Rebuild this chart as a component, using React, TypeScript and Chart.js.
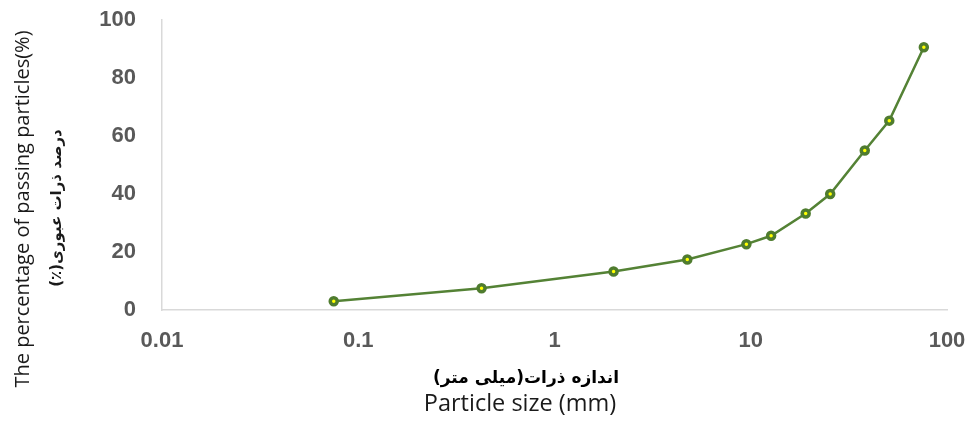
import React, { useEffect, useRef } from "react";
import { Chart, registerables } from "chart.js";

Chart.register(...registerables);

// Sieve sizes (mm) and percentage passing
const particleSizes = [0.075, 0.425, 2, 4.75, 9.5, 12.7, 19.05, 25.4, 38.1, 50.8, 76.2];
const passingPercent = [3.0, 7.5, 13.3, 17.4, 22.7, 25.6, 33.3, 40.0, 55.0, 65.3, 90.6];

const xTickValues = [0.01, 0.1, 1, 10, 100];
const xTickLabels = ["0.01", "0.1", "1", "10", "100"];
const yTickValues = [0, 20, 40, 60, 80, 100];

const yTitleEn = "The percentage of passing particles(%)";
const yTitleFa = "درصد ذرات عبوری(٪)";
const xTitleFa = "اندازه ذرات(میلی متر)";
const xTitleEn = "Particle size (mm)";

const GREEN = "#548235";

const titlesPlugin = {
  id: "customTitles",
  afterDraw(chart: any) {
    const ctx = chart.ctx as CanvasRenderingContext2D;
    ctx.save();
    ctx.textAlign = "center";
    ctx.textBaseline = "middle";
    // Y title (English)
    ctx.save();
    ctx.translate(23, 209);
    ctx.rotate(-Math.PI / 2);
    ctx.fillStyle = "#1a1a1a";
    ctx.font = '20px "Open Sans", sans-serif';
    ctx.fillText(yTitleEn, 0, 0);
    ctx.restore();
    // Y title (Persian)
    ctx.save();
    ctx.translate(57, 208);
    ctx.rotate(-Math.PI / 2);
    ctx.fillStyle = "#1a1a1a";
    ctx.direction = "rtl";
    ctx.font = 'bold 15px "DejaVu Sans", sans-serif';
    ctx.fillText(yTitleFa, 0, 0);
    ctx.restore();
    // X title (Persian)
    ctx.save();
    ctx.fillStyle = "#000000";
    ctx.direction = "rtl";
    ctx.font = 'bold 17px "DejaVu Sans", sans-serif';
    ctx.fillText(xTitleFa, 526, 379);
    ctx.restore();
    // X title (English)
    ctx.save();
    ctx.fillStyle = "#1a1a1a";
    ctx.font = '23.5px "Open Sans", sans-serif';
    ctx.fillText(xTitleEn, 520, 404);
    ctx.restore();
    ctx.restore();
  },
};

export default function App() {
  const canvasRef = useRef<HTMLCanvasElement | null>(null);

  useEffect(() => {
    if (!canvasRef.current) return;
    const tickFont = { family: '"Liberation Sans", Arial, sans-serif', size: 22, weight: "bold" as const };
    const chart = new Chart(canvasRef.current, {
      type: "line",
      data: {
        datasets: [
          {
            data: particleSizes.map((x, i) => ({ x, y: passingPercent[i] })),
            borderColor: GREEN,
            borderWidth: 2.5,
            pointRadius: 3.5,
            pointBorderWidth: 3.5,
            pointBorderColor: "#4f7c2f",
            pointBackgroundColor: "#ffff00",
            tension: 0,
            fill: false,
          },
        ],
      },
      options: {
        animation: false,
        responsive: false,
        layout: { autoPadding: false, padding: { left: 0, right: 24, top: 20, bottom: 0 } },
        plugins: {
          legend: { display: false },
          tooltip: { enabled: false },
          title: { display: false },
        },
        scales: {
          x: {
            type: "logarithmic",
            min: 0.01,
            max: 100,
            grid: { display: false, drawTicks: true, tickLength: 18 },
            border: { display: true, color: "#d9d9d9", width: 1.5 },
            afterBuildTicks: (scale: any) => {
              scale.ticks = xTickValues.map((v) => ({ value: v }));
            },
            afterFit: (scale: any) => {
              scale.height = 117;
            },
            ticks: {
              autoSkip: false,
              maxRotation: 0,
              padding: 0,
              color: "#595959",
              font: tickFont,
              callback: (value: any) => {
                const idx = xTickValues.indexOf(Number(value));
                return idx >= 0 ? xTickLabels[idx] : "";
              },
            },
          },
          y: {
            min: 0,
            max: 100,
            grid: { display: false, drawTicks: true, tickLength: 26 },
            border: { display: true, color: "#d9d9d9", width: 1.5 },
            afterBuildTicks: (scale: any) => {
              scale.ticks = yTickValues.map((v) => ({ value: v }));
            },
            afterFit: (scale: any) => {
              scale.width = 162;
            },
            ticks: {
              padding: 0,
              color: "#595959",
              font: tickFont,
            },
          },
        },
      },
      plugins: [titlesPlugin],
    });
    return () => chart.destroy();
  }, []);

  return (
    <div style={{ position: "fixed", left: 0, top: 0, width: 971, height: 427, background: "#ffffff" }}>
      <canvas ref={canvasRef} width={971} height={427} style={{ display: "block", width: 971, height: 427 }} />
    </div>
  );
}
